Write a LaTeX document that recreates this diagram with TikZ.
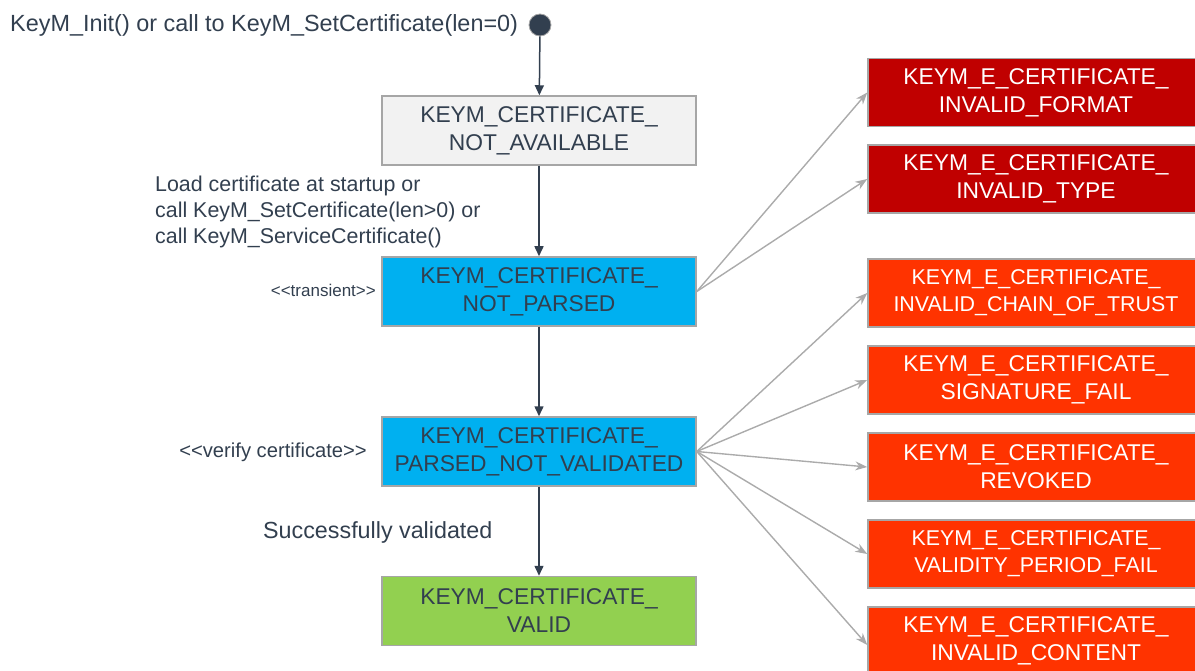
\documentclass[tikz,border=0pt]{standalone}
\usepackage{fontspec}
\setmainfont{Liberation Sans}
\usetikzlibrary{arrows.meta}
\definecolor{ink}{HTML}{323F4F}
\definecolor{boxline}{HTML}{A6A6A6}
\definecolor{errline}{HTML}{ABABAB}
\definecolor{greyfill}{HTML}{F2F2F2}
\definecolor{bluefill}{HTML}{00B0F0}
\definecolor{greenfill}{HTML}{92D050}
\definecolor{darkred}{HTML}{C00000}
\definecolor{orangered}{HTML}{FF3300}
\tikzset{
  stbox/.style={draw=boxline, line width=1.5pt, minimum width=314pt, minimum height=69pt, align=center, text=ink, font=\fontsize{22.8}{28}\selectfont, inner sep=0pt},
  errbox/.style={draw=boxline, line width=1.5pt, minimum width=336pt, minimum height=68pt, align=center, text=white, font=\fontsize{22.8}{28}\selectfont, inner sep=0pt},
  errsmall/.style={font=\fontsize{21.4}{27}\selectfont},
  flow/.style={draw=ink, line width=1.5pt, -{Triangle[length=10pt,width=9pt]}},
  errflow/.style={draw=errline, line width=1.4pt, -{Stealth[length=12pt,width=9pt]}},
  lbl/.style={text=ink, inner sep=0pt}
}
\begin{document}
\begin{tikzpicture}[x=1pt,y=-1pt]
\useasboundingbox (0,0) rectangle (1195,671);
\clip (0,0) rectangle (1195,671);
% initial state
\node[circle, fill=ink, draw=boxline, line width=0.8pt, minimum size=22pt, inner sep=0pt] (init) at (540,25) {};
\node[lbl, anchor=west, font=\fontsize{23.4}{28}\selectfont] (initlbl) at (10,25) {KeyM\_Init() or call to KeyM\_SetCertificate(len=0)};
% states
\node[stbox, fill=greyfill] (na) at (539,130.5) {KEYM\_CERTIFICATE\_\\NOT\_AVAILABLE};
\node[stbox, fill=bluefill] (np) at (539,291.5) {KEYM\_CERTIFICATE\_\\NOT\_PARSED};
\node[stbox, fill=bluefill] (pv) at (539,451.5) {KEYM\_CERTIFICATE\_\\PARSED\_NOT\_VALIDATED};
\node[stbox, fill=greenfill] (va) at (539,611) {KEYM\_CERTIFICATE\_\\VALID};
% labels
\node[lbl, anchor=west, align=left, font=\fontsize{21.4}{26}\selectfont] (loadlbl) at (155,212) {Load certificate at startup or\\call KeyM\_SetCertificate(len>0) or\\call KeyM\_ServiceCertificate()};
\node[lbl, anchor=east, font=\fontsize{17}{20}\selectfont] (tr) at (376,290) {<\kern0pt<transient>\kern0pt>};
\node[lbl, anchor=east, font=\fontsize{20.2}{22}\selectfont] (vc) at (367,452) {<\kern0pt<verify certificate>\kern0pt>};
\node[lbl, anchor=west, font=\fontsize{23.3}{26}\selectfont] (sv) at (263,532) {Successfully validated};
% error states
\node[errbox, fill=darkred] (e1) at (1036,92.5) {KEYM\_E\_CERTIFICATE\_\\INVALID\_FORMAT};
\node[errbox, fill=darkred] (e2) at (1036,179) {KEYM\_E\_CERTIFICATE\_\\INVALID\_TYPE};
\node[errbox, fill=orangered, errsmall] (e3) at (1036,293) {KEYM\_E\_CERTIFICATE\_\\INVALID\_CHAIN\_OF\_TRUST};
\node[errbox, fill=orangered] (e4) at (1036,380) {KEYM\_E\_CERTIFICATE\_\\SIGNATURE\_FAIL};
\node[errbox, fill=orangered] (e5) at (1036,467) {KEYM\_E\_CERTIFICATE\_\\REVOKED};
\node[errbox, fill=orangered, errsmall] (e6) at (1036,554) {KEYM\_E\_CERTIFICATE\_\\VALIDITY\_PERIOD\_FAIL};
\node[errbox, fill=orangered] (e7) at (1036,641) {KEYM\_E\_CERTIFICATE\_\\INVALID\_CONTENT};
% main flow
\draw[flow] (init) -- (na);
\draw[flow] (na) -- (np);
\draw[flow] (np) -- (pv);
\draw[flow] (pv) -- (va);
% error transitions
\draw[errflow] (np.east) -- (e1.west);
\draw[errflow] (np.east) -- (e2.west);
\draw[errflow] (pv.east) -- (e3.west);
\draw[errflow] (pv.east) -- (e4.west);
\draw[errflow] (pv.east) -- (e5.west);
\draw[errflow] (pv.east) -- (e6.west);
\draw[errflow] (pv.east) -- ([yshift=-4pt]e7.west);
\end{tikzpicture}
\end{document}
